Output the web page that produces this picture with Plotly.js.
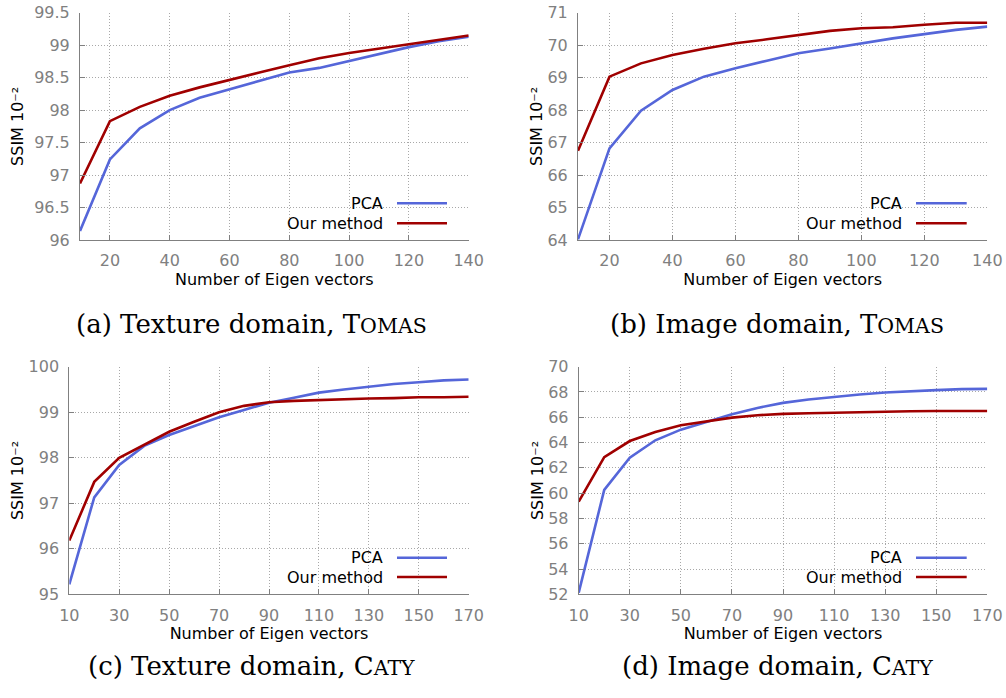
<!DOCTYPE html>
<html>
<head>
<meta charset="utf-8">
<script src="https://cdn.plot.ly/plotly-3.0.1.min.js"></script>
<style>html,body{margin:0;padding:0;background:#fff;}#chart{width:1006px;height:698px;}</style>
</head>
<body>
<div id="chart"></div>
<script>
// ---- data ----
const xTomas = [10,20,30,40,50,60,70,80,90,100,110,120,130,140];
const xCaty  = [10,20,30,40,50,60,70,80,90,100,110,120,130,140,150,160,170];

const pcaTextureTomas  = [96.14,97.24,97.72,98.00,98.19,98.32,98.45,98.58,98.65,98.76,98.86,98.97,99.06,99.13];
const oursTextureTomas = [96.87,97.83,98.05,98.22,98.35,98.47,98.58,98.69,98.80,98.88,98.95,99.02,99.09,99.15];

const pcaImageTomas  = [64.02,66.82,67.98,68.62,69.03,69.29,69.52,69.75,69.90,70.06,70.21,70.34,70.47,70.57];
const oursImageTomas = [66.75,69.03,69.44,69.70,69.89,70.06,70.18,70.31,70.44,70.52,70.55,70.63,70.69,70.69];

const pcaTextureCaty  = [95.22,97.13,97.84,98.26,98.50,98.70,98.89,99.05,99.21,99.32,99.43,99.50,99.56,99.62,99.66,99.70,99.72];
const oursTextureCaty = [96.18,97.47,98.00,98.29,98.57,98.79,99.00,99.14,99.22,99.25,99.27,99.29,99.30,99.31,99.33,99.33,99.34];

const pcaImageCaty  = [52.13,60.26,62.80,64.18,65.02,65.63,66.24,66.74,67.14,67.40,67.62,67.80,67.96,68.07,68.15,68.23,68.25];
const oursImageCaty = [59.33,62.85,64.12,64.84,65.37,65.68,65.97,66.16,66.27,66.32,66.37,66.42,66.45,66.48,66.50,66.50,66.50];

const seriesNames = ["PCA", "Our method"];
const captions = [
  "(a) Texture domain, T<span style=\"font-size:20.5px\">OMAS</span>",
  "(b) Image domain, T<span style=\"font-size:20.5px\">OMAS</span>",
  "(c) Texture domain, C<span style=\"font-size:20.5px\">ATY</span>",
  "(d) Image domain, C<span style=\"font-size:20.5px\">ATY</span>"
];
const xTitle = "Number of Eigen vectors";
const yTitle = "SSIM 10⁻²";

// ---- style ----
const W = 1006, H = 698;
const px = v => v / W;
const py = v => 1 - v / H;
const BLUE = "#5566d9", RED = "#a00000";
const GRAY = "#808080";
const GRID = "#a8a8a8";
const FONT = "DejaVu Sans";

const panels = [
  {x: xTomas, pca: pcaTextureTomas, ours: oursTextureTomas, xr:[10,140], t0:0,  dt:20, yr:[96,99.5], ydt:0.5, dom:[80,468.7], ydom:[12.7,240], ystand:6, leg:{x1:385, l0:397, l1:447, y1:203.3, y2:223.3, r:[280,457,193,239]}, cap:[251,324]},
  {x: xTomas, pca: pcaImageTomas, ours: oursImageTomas, xr:[10,140], t0:0,  dt:20, yr:[64,71], ydt:1, dom:[578,987.3], ydom:[12.7,240], ystand:0, leg:{x1:904, l0:916, l1:966.7, y1:203.3, y2:223.3, r:[797,977,194,239]}, cap:[777,324]},
  {x: xCaty, pca: pcaTextureCaty, ours: oursTextureCaty, xr:[10,170], t0:10, dt:20, yr:[95,100], ydt:1, dom:[69.3,468.7], ydom:[366.7,594.3], ystand:0, leg:{x1:385, l0:397, l1:447, y1:557.7, y2:577, r:[278,457,547,593]}, cap:[251,666]},
  {x: xCaty, pca: pcaImageCaty, ours: oursImageCaty, xr:[10,170], t0:10, dt:20, yr:[52,70], ydt:2, dom:[578.7,987.3], ydom:[366.7,594.3], ystand:0, leg:{x1:904, l0:916, l1:966.7, y1:557.7, y2:577, r:[797,977,547,593]}, cap:[777,666]}
];

const traces = [];
const layout = {
  width: W, height: H,
  margin: {l:0, r:0, t:0, b:0},
  paper_bgcolor: "#fff", plot_bgcolor: "#fff",
  showlegend: false,
  font: {family: FONT, size: 16, color: "#000"},
  shapes: [], annotations: []
};

panels.forEach((p, i) => {
  const n = i === 0 ? "" : String(i + 1);
  const xa = "x" + n, ya = "y" + n;
  traces.push({x: p.x, y: p.pca, xaxis: xa, yaxis: ya, mode: "lines", name: seriesNames[0],
    line: {color: BLUE, width: 2.6}, hoverinfo: "skip"});
  traces.push({x: p.x, y: p.ours, xaxis: xa, yaxis: ya, mode: "lines", name: seriesNames[1],
    line: {color: RED, width: 2.6}, hoverinfo: "skip"});

  layout["xaxis" + n] = {
    domain: [px(p.dom[0]), px(p.dom[1])], anchor: ya, range: p.xr,
    tick0: p.t0, dtick: p.dt, tickmode: "linear",
    ticks: "inside", ticklen: 5, tickcolor: GRAY, tickwidth: 1,
    showline: true, linecolor: GRAY, linewidth: 1,
    showgrid: true, gridcolor: GRID, griddash: "1px,2px", gridwidth: 1,
    zeroline: false, automargin: false,
    tickfont: {family: FONT, size: 16, color: GRAY},
    ticklabelstandoff: 6,
    title: {text: xTitle, font: {family: FONT, size: 16, color: "#000"}, standoff: 0}
  };
  layout["yaxis" + n] = {
    domain: [py(p.ydom[1]), py(p.ydom[0])], anchor: xa, range: p.yr,
    dtick: p.ydt, tickmode: "linear", tick0: p.yr[0],
    ticks: "inside", ticklen: 5, tickcolor: GRAY, tickwidth: 1,
    showline: true, linecolor: GRAY, linewidth: 1,
    showgrid: true, gridcolor: GRID, griddash: "1px,2px", gridwidth: 1,
    zeroline: false, automargin: false,
    tickfont: {family: FONT, size: 16, color: GRAY},
    ticklabelstandoff: 6,
    title: {text: yTitle, font: {family: FONT, size: 16, color: "#000"}, standoff: p.ystand}
  };

  const L = p.leg;
  layout.shapes.push({type: "rect", xref: "paper", yref: "paper", layer: "between",
    x0: px(L.r[0]), x1: px(L.r[1]), y0: py(L.r[3]), y1: py(L.r[2]),
    fillcolor: "#fff", line: {width: 0}});
  layout.shapes.push({type: "line", xref: "paper", yref: "paper", layer: "above",
    x0: px(L.l0), x1: px(L.l1), y0: py(L.y1), y1: py(L.y1), line: {color: BLUE, width: 2.6}});
  layout.shapes.push({type: "line", xref: "paper", yref: "paper", layer: "above",
    x0: px(L.l0), x1: px(L.l1), y0: py(L.y2), y1: py(L.y2), line: {color: RED, width: 2.6}});
  layout.annotations.push({xref: "paper", yref: "paper", x: px(L.x1), y: py(L.y1),
    xanchor: "right", yanchor: "middle", text: seriesNames[0], showarrow: false,
    font: {family: FONT, size: 16, color: "#000"}});
  layout.annotations.push({xref: "paper", yref: "paper", x: px(L.x1), y: py(L.y2),
    xanchor: "right", yanchor: "middle", text: seriesNames[1], showarrow: false,
    font: {family: FONT, size: 16, color: "#000"}});
  layout.annotations.push({xref: "paper", yref: "paper", x: px(p.cap[0]), y: py(p.cap[1]),
    xanchor: "center", yanchor: "middle", text: captions[i], showarrow: false,
    font: {family: "DejaVu Serif", size: 26, color: "#000"}});
});

Plotly.newPlot("chart", traces, layout, {staticPlot: true, displayModeBar: false});
</script>
</body>
</html>
